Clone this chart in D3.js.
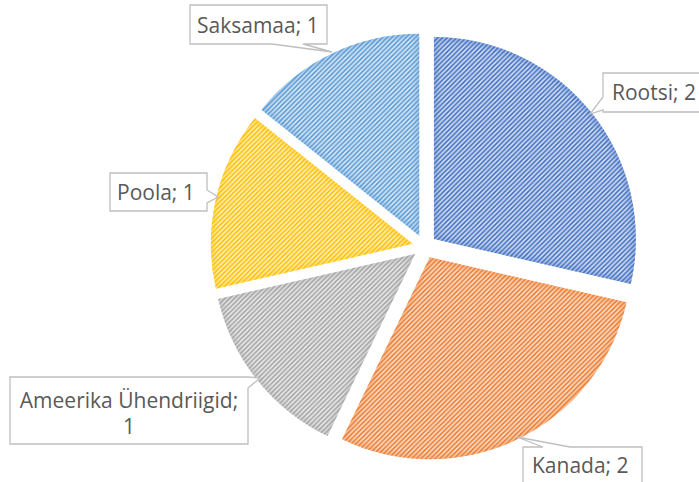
<!DOCTYPE html>
<html>
<head>
  <meta charset="utf-8">
  <script src="https://d3js.org/d3.v7.min.js"></script>
  <style>
    body { margin: 0; background: #fff; }
    .callout-text { font-family: "Open Sans", "Noto Sans", sans-serif; font-size: 21px; fill: #595959; }
  </style>
</head>
<body>
  <svg id="chart"></svg>
  <script>
    // data
    var categories = ["Rootsi", "Kanada", "Ameerika Ühendriigid", "Poola", "Saksamaa"];
    var values = [2, 2, 1, 1, 1];
    var labelLines = [["Rootsi; 2"], ["Kanada; 2"], ["Ameerika Ühendriigid;", "1"], ["Poola; 1"], ["Saksamaa; 1"]];

    // styles
    var stripeColors = ["#4472c4", "#ed7d31", "#a5a5a5", "#ffc000", "#5b9bd5"];
    var backColors = ["#d9e2f3", "#fbe3d3", "#ededed", "#fff2cc", "#deebf7"];

    var width = 699, height = 482;
    var cx = 424.5, cy = 246.5, radius = 202, explode = 12;

    // callout boxes: rect, pointer edge, base along edge, tip
    var callouts = [
      { x: 603, y: 73, w: 110, h: 39, edge: "left", a: 97, b: 110, tip: [590, 114], tx: 612, ty: 100 },
      { x: 523, y: 447, w: 119, h: 45, edge: "top", a: 543, b: 570, tip: [517, 437], tx: 532, ty: 473 },
      { x: 10, y: 377, w: 238, h: 67, edge: "right", a: 377, b: 388, tip: [260, 378], tx: 129, ty: 408, center: true },
      { x: 110, y: 173, w: 97, h: 38, edge: "right", a: 190, b: 203, tip: [218, 197], tx: 117, ty: 200 },
      { x: 190, y: 5, w: 137, h: 39, edge: "bottom", a: 272, b: 303, tip: [332, 52], tx: 197, ty: 33 }
    ];

    var svg = d3.select("#chart")
      .attr("width", width)
      .attr("height", height);

    var defs = svg.append("defs");

    stripeColors.forEach(function(c, i) {
      var p = defs.append("pattern")
        .attr("id", "hatch" + i)
        .attr("patternUnits", "userSpaceOnUse")
        .attr("width", 4.7)
        .attr("height", 4.7);
      p.append("rect").attr("width", 4.7).attr("height", 4.7).attr("fill", backColors[i]);
      p.append("path")
        .attr("d", "M-1.2,1.2 L1.2,-1.2 M0,4.7 L4.7,0 M3.5,5.9 L5.9,3.5")
        .attr("stroke", c)
        .attr("stroke-width", 1.7);
    });

    var blur = defs.append("filter").attr("id", "soft");
    blur.append("feGaussianBlur").attr("stdDeviation", 2);

    var pie = d3.pie().sort(null).value(function(d) { return d; });
    var arcs = pie(values);
    var arc = d3.arc().innerRadius(0).outerRadius(radius);

    var slices = svg.append("g").attr("transform", "translate(" + cx + "," + cy + ")");

    arcs.forEach(function(d, i) {
      var mid = (d.startAngle + d.endAngle) / 2;
      var g = slices.append("g")
        .attr("transform", "translate(" + (Math.sin(mid) * explode) + "," + (-Math.cos(mid) * explode) + ")");
      defs.append("clipPath").attr("id", "clip" + i)
        .append("path").attr("d", arc(d));
      g.append("path")
        .attr("d", arc(d))
        .attr("fill", "url(#hatch" + i + ")");
      // soft glow at the edges
      g.append("path")
        .attr("d", arc(d))
        .attr("fill", "none")
        .attr("stroke", stripeColors[i])
        .attr("stroke-opacity", 0.35)
        .attr("stroke-width", 7)
        .attr("filter", "url(#soft)")
        .attr("clip-path", "url(#clip" + i + ")");
    });

    function calloutPath(c) {
      var x0 = c.x, y0 = c.y, x1 = c.x + c.w, y1 = c.y + c.h;
      var t = c.tip[0] + "," + c.tip[1];
      var p = "M" + x0 + "," + y0;
      if (c.edge === "top") p += " L" + c.a + "," + y0 + " L" + t + " L" + c.b + "," + y0;
      p += " L" + x1 + "," + y0;
      if (c.edge === "right") p += " L" + x1 + "," + c.a + " L" + t + " L" + x1 + "," + c.b;
      p += " L" + x1 + "," + y1;
      if (c.edge === "bottom") p += " L" + c.b + "," + y1 + " L" + t + " L" + c.a + "," + y1;
      p += " L" + x0 + "," + y1;
      if (c.edge === "left") p += " L" + x0 + "," + c.b + " L" + t + " L" + x0 + "," + c.a;
      return p + " Z";
    }

    var labels = svg.append("g");
    callouts.forEach(function(c, i) {
      labels.append("path")
        .attr("d", calloutPath(c))
        .attr("fill", "#fff")
        .attr("stroke", "#bfbfbf")
        .attr("stroke-width", 1.3);
      var txt = labels.append("text")
        .attr("class", "callout-text")
        .attr("text-anchor", c.center ? "middle" : "start");
      labelLines[i].forEach(function(line, j) {
        txt.append("tspan")
          .attr("x", c.tx)
          .attr("y", c.ty + j * 26)
          .text(line);
      });
    });
  </script>
</body>
</html>
